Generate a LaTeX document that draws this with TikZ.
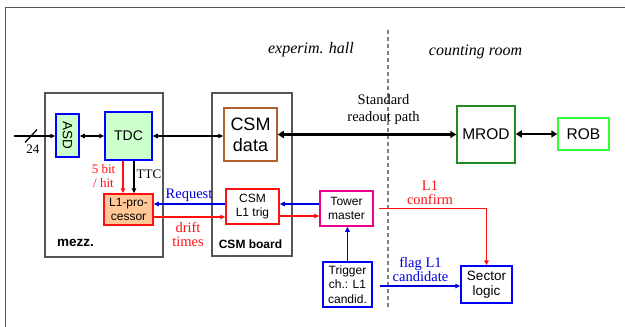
\documentclass[tikz,border=0pt]{standalone}
\usepackage{fontspec}
\setmainfont{Liberation Serif}
\setsansfont{Liberation Sans}
\usetikzlibrary{arrows.meta}
\definecolor{boxgreen}{HTML}{CCFFCC}
\definecolor{peach}{HTML}{FFC896}
\definecolor{brownb}{HTML}{B0602E}
\definecolor{mrodg}{HTML}{228B22}
\definecolor{robg}{HTML}{33FF33}
\definecolor{myblue}{HTML}{0000DD}
\definecolor{myred}{HTML}{FF1010}
\definecolor{framegray}{HTML}{555555}
\tikzset{
  box/.style={draw, line width=1.5pt, rectangle, inner sep=0pt, align=center, font=\sffamily},
  bigbox/.style={draw=framegray, line width=1.2pt, rectangle, fill=white},
  lab/.style={align=center, inner sep=0pt, font=\fontsize{14.5}{12.5}\selectfont},
  tip/.style={-{Triangle[length=5pt,width=4.5pt]}},
  dtip/.style={{Triangle[length=5pt,width=4.5pt]}-{Triangle[length=5pt,width=4.5pt]}},
  thicktip/.style={line width=2.8pt, {Triangle[length=6pt,width=7pt]}-{Triangle[length=6pt,width=7pt]}},
  redarr/.style={tip, draw=myred, line width=1.8pt},
  bluearr/.style={tip, draw=myblue, line width=1.8pt},
}
\begin{document}
\begin{tikzpicture}[x=1pt,y=-1pt]
\useasboundingbox (0,0) rectangle (625,327);
% frame
\draw[framegray, line width=1.7pt] (5.5,327) -- (5.5,7.5) -- (625,7.5);
% dashed separator
\draw[gray, line width=1.4pt, dash pattern=on 4pt off 3pt] (388,30) -- (388,310);
\node[lab, font=\itshape\fontsize{16}{17}\selectfont] (hall) at (311,50) {experim. hall};
\node[lab, font=\itshape\fontsize{16}{17}\selectfont] (room) at (475.5,52) {counting room};

% big boxes
\node[bigbox, minimum width=118pt, minimum height=164pt] (mezz) at (104,175) {};
\node[bigbox, minimum width=80pt, minimum height=163pt] (board) at (252,174.5) {};
\node[font=\sffamily\bfseries\fontsize{13.5}{14}\selectfont, inner sep=0pt] (mezzl) at (75.5,243) {mezz.};
\node[font=\sffamily\bfseries\fontsize{12}{13}\selectfont, inner sep=0pt] (boardl) at (250.5,244) {CSM board};

% boxes
\node[box, draw=blue, fill=boxgreen, minimum width=23pt, minimum height=43pt] (asd) at (67.5,135.5) {};
\node[rotate=-90, font=\sffamily\fontsize{13.5}{14}\selectfont, inner sep=0pt] (asdl) at (asd.center) {ASD};
\node[box, draw=blue, fill=boxgreen, minimum width=47pt, minimum height=48pt, font=\sffamily\fontsize{14}{15}\selectfont] (tdc) at (128.5,136) {TDC};
\node[box, draw=myred, fill=peach, minimum width=49pt, minimum height=31pt, font=\sffamily\fontsize{12}{14}\selectfont] (l1) at (128.5,209.5) {L1-pro-\\cessor};
\node[box, draw=brownb, fill=white, minimum width=53pt, minimum height=53pt, font=\sffamily\fontsize{18}{21}\selectfont] (data) at (250.5,134.5) {CSM\\data};
\node[box, draw=myred, fill=white, minimum width=53pt, minimum height=35pt, font=\sffamily\fontsize{12}{14.5}\selectfont] (trig) at (252.5,206.5) {CSM\\L1 trig};
\node[box, draw=magenta, fill=white, minimum width=53pt, minimum height=35pt, font=\sffamily\fontsize{12}{14.5}\selectfont] (tower) at (346.5,208.5) {Tower\\master};
\node[box, draw=blue, fill=white, minimum width=49pt, minimum height=45pt, font=\sffamily\fontsize{12}{14.5}\selectfont] (cand) at (347.5,284.5) {Trigger\\ch.: L1\\candid.};
\node[box, draw=blue, fill=white, minimum width=51pt, minimum height=37pt, font=\sffamily\fontsize{13.5}{15.5}\selectfont] (sector) at (486.5,284.5) {Sector\\logic};
\node[box, draw=mrodg, fill=white, minimum width=58pt, minimum height=57pt, font=\sffamily\fontsize{15.5}{17}\selectfont] (mrod) at (486,134.5) {MROD};
\node[box, draw=robg, fill=white, minimum width=51pt, minimum height=32pt, font=\sffamily\fontsize{15.5}{17}\selectfont] (rob) at (583.5,134) {ROB};

% input
\coordinate (in) at (14,136);
\draw[tip, line width=1.8pt] (in) -- (asd.west |- in);
\draw[line width=1.3pt] (25,142.5) -- (37,129.5);
\node[lab, font=\fontsize{13}{14}\selectfont] (n24) at (33,149) {24};

% black connectors
\draw[dtip, line width=1.5pt] (asd.east |- tdc) -- (tdc.west);
\draw[dtip, line width=2pt] (tdc.east) -- (tdc.east -| data.west);
\draw[thicktip] (data.east) -- (mrod.west);
\draw[thicktip] (mrod.east |- rob) -- (rob.west);
\node[lab, font=\fontsize{14.5}{17}\selectfont] (std) at (383.5,109.5) {Standard\\readout path};

% TDC -> L1
\draw[redarr] ([xshift=-5.5pt]tdc.south) -- ([xshift=-5.5pt]tdc.south |- l1.north);
\draw[tip, line width=1.4pt] ([xshift=5.5pt]tdc.south) -- ([xshift=5.5pt]tdc.south |- l1.north);
\node[lab, text=myred, font=\fontsize{13}{14}\selectfont] (bit) at (103.5,176) {5 bit\\/ hit};
\node[lab, font=\fontsize{13}{14}\selectfont] (ttc) at (149,174) {TTC};

% request / drift times
\draw[bluearr] ([yshift=2.5pt]trig.west) -- ([yshift=2.5pt]trig.west -| l1.east);
\node[lab, text=myblue] (req) at (189,195.5) {Request};
\draw[redarr] ([yshift=-10.5pt]trig.west -| l1.east) -- ([yshift=-10.5pt]trig.west);
\node[lab, text=myred, font=\fontsize{14.5}{14}\selectfont] (drift) at (188,234.5) {drift\\times};

% CSM L1 trig <-> tower
\draw[bluearr] ([yshift=4.5pt]tower.west) -- ([yshift=4.5pt]tower.west -| trig.east);
\draw[redarr] ([yshift=-9.5pt]trig.east) -- ([yshift=-9.5pt]trig.east -| tower.west);

% trigger candidate -> tower
\draw[bluearr] (cand.north) -- (cand.north |- tower.south);

% L1 confirm
\draw[redarr] ([xshift=5pt]tower.east) -- (tower.east -| sector.north) -- (sector.north);
\node[lab, text=myred, font=\fontsize{14.5}{14}\selectfont] (l1c) at (430,192.5) {L1\\confirm};

% flag L1 candidate
\draw[bluearr] ([xshift=7pt,yshift=-1.5pt]cand.east) -- ([yshift=-1.5pt]cand.east -| sector.west);
\node[lab, text=myblue, font=\fontsize{14.5}{13}\selectfont] (flag) at (420.5,269.5) {flag L1\\candidate};
\end{tikzpicture}
\end{document}
